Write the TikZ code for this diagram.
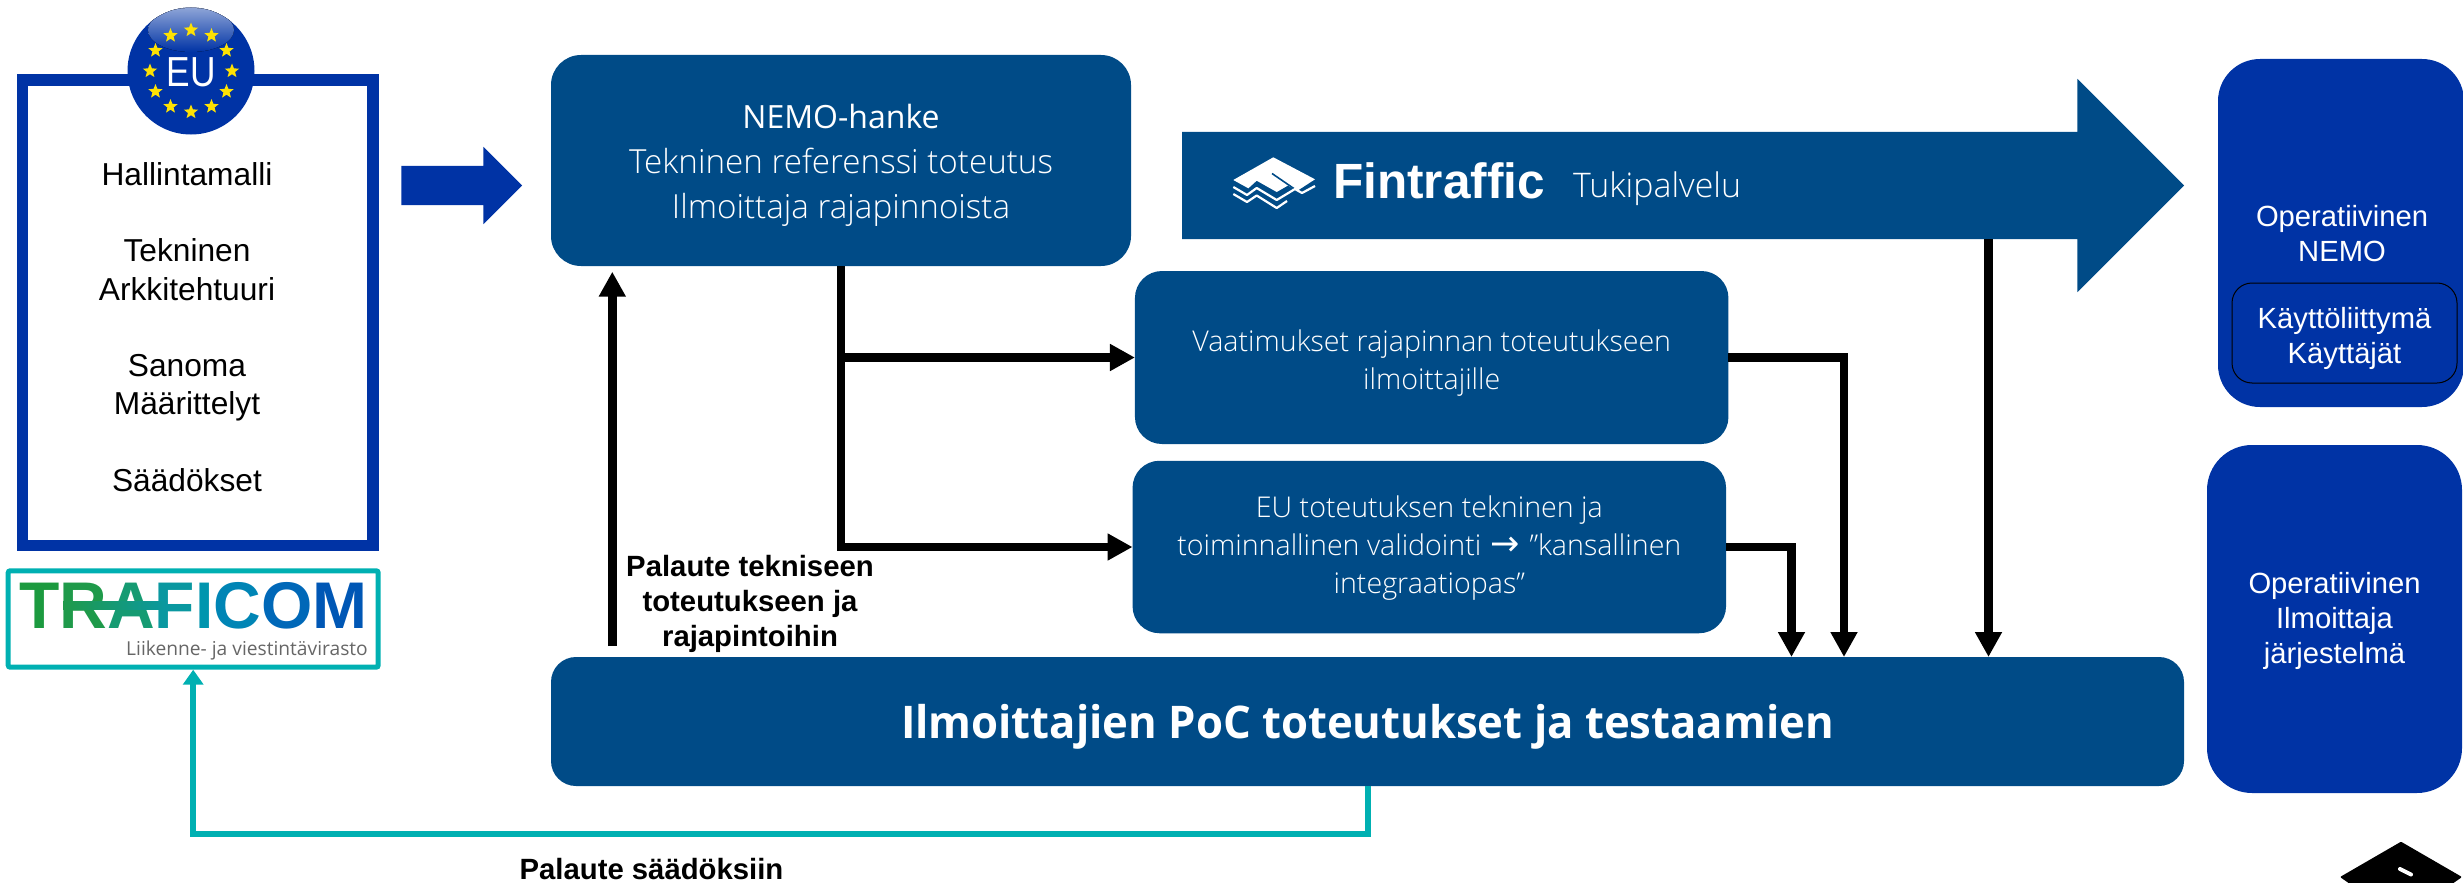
\documentclass[tikz,border=0pt]{standalone}
\usepackage{fontspec}
\setmainfont{Liberation Sans}
\newfontfamily\oslight{Open Sans Light}
\newfontfamily\osreg{Open Sans}
\newfontfamily\ostitle[FakeStretch=0.97]{Open Sans}
\newfontfamily\dejavu{DejaVu Sans}
\usetikzlibrary{arrows.meta,shapes.geometric,shapes.arrows,calc}
\definecolor{navy}{HTML}{004B87}
\definecolor{eublue}{HTML}{0033A5}
\definecolor{tealc}{HTML}{00B0B2}
\newcommand{\fs}[2]{\fontsize{#1}{#2}\selectfont}
\newcommand{\tp}[1]{\rule{0pt}{#1pt}}
\tikzset{
  x=1pt,y=-1pt,
  navybox/.style={fill=navy,text=white,align=center,inner sep=0pt,outer sep=0pt,anchor=center},
  opbox/.style={fill=eublue,text=white,align=center,inner sep=0pt,outer sep=0pt,anchor=center},
  blk/.style={line width=8.5pt,draw=black,-{Triangle[length=25pt,width=25.5pt]}},
  tl/.style={line width=6pt,draw=tealc,-{Triangle[length=15pt,width=20pt]}},
  plain/.style={inner sep=0pt,outer sep=0pt,align=center},
  bar/.style={single arrow,single arrow tip angle=90,inner xsep=0pt,outer sep=0pt,anchor=tail},
  eustar/.style={star,star points=5,star point ratio=2.3,fill=yellow!85!orange,draw=none,minimum size=15pt,inner sep=0pt},
}
\begin{document}
\begin{tikzpicture}
\useasboundingbox (0,0) rectangle (2463,883);
% EU frame
\node[draw=eublue,line width=11.5pt,minimum width=350.5pt,minimum height=465.6pt,inner sep=0pt,outer sep=0pt] (frame) at (197.5,312.8) {};
\node[plain,font=\fs{31.7}{38.3}] (eutext) at (187,327) {Hallintamalli\\[38.3pt]Tekninen\\Arkkitehtuuri\\[38.3pt]Sanoma\\Määrittelyt\\[38.3pt]Säädökset};
% EU ball
\node[circle,fill=eublue,minimum size=127pt,inner sep=0pt,outer sep=0pt] (eu) at (191,71) {};
\begin{scope}
  \clip (eu.center) circle[radius=63.5];
  \fill[top color=eublue!30!white,bottom color=eublue] (128,7) rectangle (254,22);
  \fill[top color=eublue!45!white,bottom color=eublue] (191,30) ellipse[x radius=43,y radius=22];
\end{scope}
\foreach \a in {0,30,...,330}{
  \node[eustar] (s\a) at ($(eu.center)+(\a:41)$) {};
}
\node[text=white,font=\fs{42}{42},xscale=.84,inner sep=0pt] (eulabel) at (191,72) {EU};
% left arrow
\node[bar,fill=eublue,minimum height=120.6pt,minimum width=77pt,inner ysep=19.5pt,single arrow head extend=19pt] (garrow) at (401.4,185.5) {};
% Traficom
\node[draw=tealc,line width=5pt,rounded corners=2pt,minimum width=370pt,minimum height=96.4pt,inner sep=0pt,outer sep=2.5pt] (traf) at (193.2,619) {};
\node[anchor=base west,inner sep=0pt,font=\fs{66}{66}\bfseries] (traflogo) at (19,628) {\textcolor[HTML]{1C9A3F}{T}\textcolor[HTML]{1F9A4A}{R}\textcolor[HTML]{169B72}{A}\textcolor[HTML]{0A98A0}{F}\textcolor[HTML]{0095AE}{I}\textcolor[HTML]{0085B5}{C}\textcolor[HTML]{0068B8}{O}\textcolor[HTML]{0057B5}{M}};
\fill[left color={rgb,255:red,31;green,154;blue,74},right color={rgb,255:red,10;green,152;blue,160}] (63,601) rectangle (167,609);
\node[anchor=base east,inner sep=0pt,text=black!60,font=\osreg\fs{19.2}{24}] (trafsub) at (368,655) {Liikenne- ja viestintävirasto};
% NEMO
\node[navybox,minimum width=580pt,minimum height=211pt,rounded corners=30pt,font=\oslight\fs{33.2}{45}] (nemo) at (841,160.5)
 {\tp{33}{\osreg\fs{32}{45}NEMO-hanke}\\Tekninen referenssi toteutus\\Ilmoittaja rajapinnoista};
% Fintraffic arrow
\node[bar,fill=navy,minimum height=1002pt,minimum width=213pt,inner ysep=53.5pt,single arrow head extend=53pt] (fint) at (1182,185.5) {};
\fill[white] (1273.3,157.3) -- (1315,179.3) -- (1297,191) -- (1288,185.5) -- (1276.7,192) -- (1256.7,180.7) -- (1248.3,188.3) -- (1233.3,180) -- cycle;
\draw[navy,line width=1.6pt] (1272,173.5) -- (1296,190);
\draw[white,line width=2.2pt,line join=round] (1233.3,187) -- (1247,195) -- (1256.7,188) -- (1276.7,200) -- (1295,189) -- (1302,193) -- (1315,186);
\draw[white,line width=2.2pt,line join=round] (1233.3,194) -- (1247,202) -- (1256.7,195.5) -- (1276.7,208) -- (1287,201);
\node[anchor=base west,inner sep=0pt,text=white,font=\fs{49.5}{49}\bfseries] (finttext) at (1333,198) {Fintraffic};
\node[anchor=base west,inner sep=0pt,text=white,font=\oslight\fs{33.9}{36}] (tuki) at (1573,197) {Tukipalvelu};
% middle boxes
\node[navybox,minimum width=593.5pt,minimum height=173pt,rounded corners=27pt,font=\oslight\fs{28.6}{38}] (vaat) at (1431.7,357.5)
 {\tp{32}Vaatimukset rajapinnan toteutukseen\\ilmoittajille};
\node[navybox,minimum width=593.5pt,minimum height=172.5pt,rounded corners=27pt,font=\oslight\fs{28.6}{38}] (euval) at (1429.3,547)
 {\tp{24.5}EU toteutuksen tekninen ja\\toiminnallinen validointi\hspace{2pt} {\dejavu\fontsize{35}{38}\selectfont →}\hspace{2pt} ”kansallinen\\integraatiopas”};
% main box
\node[navybox,minimum width=1633pt,minimum height=129pt,rounded corners=25pt,font=\ostitle\bfseries\fs{45}{50}] (main) at (1367.5,721.5)
 {\tp{45}Ilmoittajien PoC toteutukset ja testaamien};
% right boxes
\node[opbox,minimum width=246pt,minimum height=348pt,rounded corners=42pt] (opnemo) at (2341,233) {};
\node[plain,text=white,font=\fs{29.2}{35}] (opnemotext) at (2342,233.5) {Operatiivinen\\NEMO};
\node[opbox,draw=black,line width=1pt,minimum width=225pt,minimum height=100pt,rounded corners=20pt,font=\fs{29.2}{35}] (kayt) at (2344.5,333)
 {\tp{32}Käyttöliittymä\\Käyttäjät};
\node[opbox,minimum width=255pt,minimum height=348pt,rounded corners=45pt,font=\fs{29.2}{35}] (opilm) at (2334.5,619)
 {\tp{26}Operatiivinen\\Ilmoittaja\\järjestelmä};
% labels
\node[plain,font=\fs{29.3}{35.2}\bfseries] (pal1) at (750,604) {Palaute tekniseen\\toteutukseen ja\\rajapintoihin};
\node[anchor=base,inner sep=0pt,font=\fs{29.3}{35}\bfseries] (pal2) at (651.5,879) {Palaute säädöksiin};
% connectors
\coordinate (c1) at (1791.5,657);
\coordinate (c2) at (1844,657);
\coordinate (f1) at (1988.5,239);
\coordinate (f2) at (1988.5,657);
\coordinate (up) at (612.3,657);
\coordinate (m1) at (1368,786);
\coordinate (tc) at (193.2,834);
\draw[blk] (nemo.south) |- (euval.west);
\draw[blk] (nemo.south |- vaat.west) -- (vaat.west);
\draw[blk] (vaat.east) -| (c2);
\draw[blk] (euval.east) -| (c1);
\draw[blk] (f1) -- (f2);
\draw[blk,shorten <=11pt,shorten >=5.7pt] (up) -- (nemo.south -| up);
\draw[tl] (m1) |- (tc) -- (traf.south);
% corner mark
\fill[black,rounded corners=1pt] (2401,841.7) -- (2462,877) -- (2452,884) -- (2350,884) -- (2340,877) -- cycle;
\draw[white,line width=4pt,line cap=round] (2400,869) -- (2411,874.5);
\end{tikzpicture}
\end{document}
